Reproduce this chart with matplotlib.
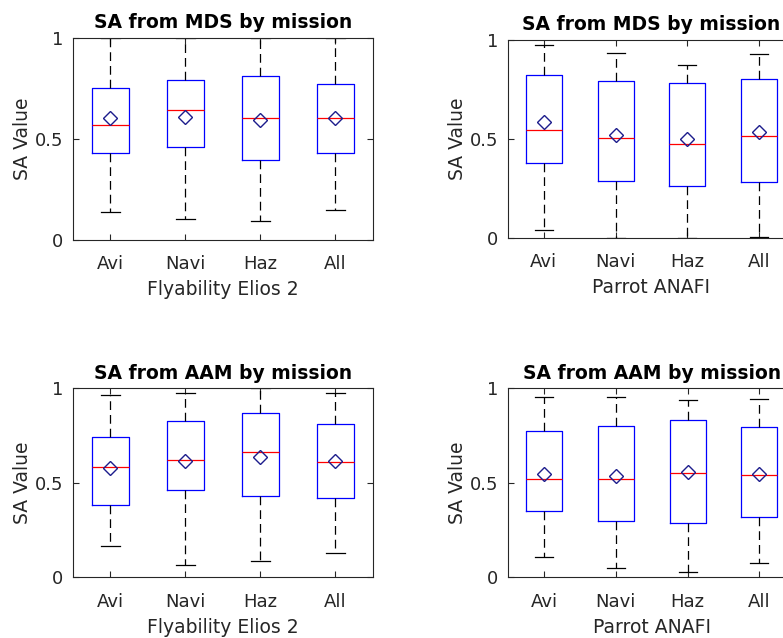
import numpy as np
import matplotlib
matplotlib.use('Agg')
from matplotlib import pyplot as plt

##==============================================================================
## Data: SA values per mission for each drone
##==============================================================================
missions = ['Avi', 'Navi', 'Haz', 'All']

# MDS, Flyability Elios 2
mds_elios_lo   = [0.139, 0.105, 0.096, 0.147]
mds_elios_q1   = [0.429, 0.459, 0.398, 0.431]
mds_elios_med  = [0.568, 0.644, 0.602, 0.602]
mds_elios_q3   = [0.751, 0.792, 0.810, 0.771]
mds_elios_hi   = [1.000, 1.000, 1.000, 1.000]
mds_elios_mean = [0.602, 0.607, 0.594, 0.606]

# MDS, Parrot ANAFI
mds_anafi_lo   = [0.037, 0.000, 0.000, 0.003]
mds_anafi_q1   = [0.378, 0.288, 0.259, 0.281]
mds_anafi_med  = [0.542, 0.503, 0.470, 0.512]
mds_anafi_q3   = [0.821, 0.793, 0.779, 0.800]
mds_anafi_hi   = [0.973, 0.932, 0.874, 0.926]
mds_anafi_mean = [0.584, 0.520, 0.500, 0.533]

# AAM, Flyability Elios 2
aam_elios_lo   = [0.168, 0.065, 0.088, 0.129]
aam_elios_q1   = [0.381, 0.462, 0.430, 0.418]
aam_elios_med  = [0.586, 0.621, 0.663, 0.612]
aam_elios_q3   = [0.742, 0.825, 0.871, 0.811]
aam_elios_hi   = [0.966, 0.977, 1.000, 0.977]
aam_elios_mean = [0.578, 0.614, 0.638, 0.616]

# AAM, Parrot ANAFI
aam_anafi_lo   = [0.106, 0.048, 0.028, 0.078]
aam_anafi_q1   = [0.349, 0.298, 0.287, 0.317]
aam_anafi_med  = [0.522, 0.522, 0.552, 0.541]
aam_anafi_q3   = [0.772, 0.801, 0.832, 0.797]
aam_anafi_hi   = [0.956, 0.956, 0.938, 0.944]
aam_anafi_mean = [0.548, 0.536, 0.557, 0.547]

##==============================================================================
plt.rcParams['font.family'] = ['DejaVu Sans']

text_col = '#262626'

def make_stats(lo, q1, med, q3, hi, mean):
    stats = []
    for n, m in enumerate(missions):
        stats.append({'label': m, 'whislo': lo[n], 'q1': q1[n], 'med': med[n],
                      'q3': q3[n], 'whishi': hi[n], 'mean': mean[n],
                      'fliers': []})
    return stats

def plot_panel(ax, stats, title, xlabel):
    ax.bxp(stats, widths=0.5, showmeans=True, showfliers=False,
           boxprops=dict(color='blue', linewidth=0.9),
           medianprops=dict(color='red', linewidth=0.9),
           whiskerprops=dict(color='black', linewidth=0.9,
                             linestyle=(0, (7, 4))),
           capprops=dict(color='black', linewidth=0.9),
           meanprops=dict(marker='D', markersize=7.5, markerfacecolor='none',
                          markeredgecolor='#1c1c8c', markeredgewidth=1.0))
    ax.set_xlim(0.5, 4.5)
    ax.set_ylim(0, 1)
    ax.set_yticks([0, 0.5, 1])
    ax.set_yticklabels(['0', '0.5', '1'])
    ax.tick_params(direction='in', length=4, width=0.8, top=True, right=True,
                   labelsize=13, colors=text_col, pad=11)
    ax.tick_params(axis='y', pad=7)
    for sp in ax.spines.values():
        sp.set_color(text_col)
        sp.set_linewidth(0.8)
    ax.set_title(title, fontsize=13.5, fontweight='bold', pad=7)
    ax.set_ylabel('SA Value', fontsize=13.5, color=text_col, labelpad=2)
    ax.set_xlabel(xlabel, fontsize=13.5, color=text_col, labelpad=5)

fig = plt.figure(figsize=(7.83, 6.38), dpi=100)

ax1 = fig.add_axes([0.0932, 0.6238, 0.3831, 0.3166])
ax2 = fig.add_axes([0.6488, 0.6277, 0.3665, 0.3103])
ax3 = fig.add_axes([0.0932, 0.0951, 0.3831, 0.2962])
ax4 = fig.add_axes([0.6492, 0.0951, 0.3665, 0.2962])

plot_panel(ax1, make_stats(mds_elios_lo, mds_elios_q1, mds_elios_med,
                           mds_elios_q3, mds_elios_hi, mds_elios_mean),
           'SA from MDS by mission', 'Flyability Elios 2')
plot_panel(ax2, make_stats(mds_anafi_lo, mds_anafi_q1, mds_anafi_med,
                           mds_anafi_q3, mds_anafi_hi, mds_anafi_mean),
           'SA from MDS by mission', 'Parrot ANAFI')
plot_panel(ax3, make_stats(aam_elios_lo, aam_elios_q1, aam_elios_med,
                           aam_elios_q3, aam_elios_hi, aam_elios_mean),
           'SA from AAM by mission', 'Flyability Elios 2')
plot_panel(ax4, make_stats(aam_anafi_lo, aam_anafi_q1, aam_anafi_med,
                           aam_anafi_q3, aam_anafi_hi, aam_anafi_mean),
           'SA from AAM by mission', 'Parrot ANAFI')

plt.savefig('out.png', dpi=100, facecolor='white')
